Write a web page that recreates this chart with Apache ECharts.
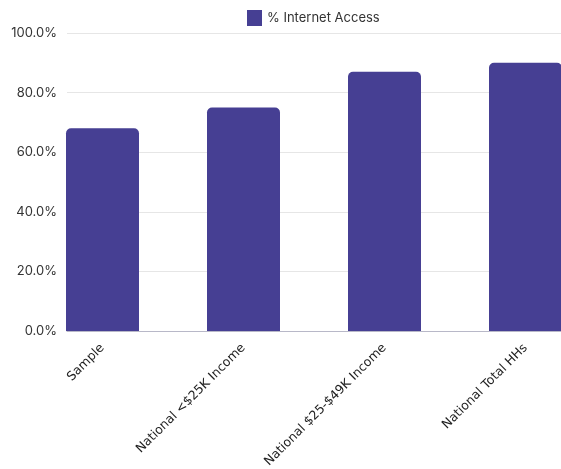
<!DOCTYPE html>
<html>
<head>
<meta charset="utf-8">
<script src="https://cdn.jsdelivr.net/npm/echarts@6/dist/echarts.min.js"></script>
<style>
html,body{margin:0;padding:0;background:#fff;}
#main{width:561px;height:469px;}
</style>
</head>
<body>
<div id="main"></div>
<script>
// data
var categories = ['Sample', 'National <$25K Income', 'National $25-$49K Income', 'National Total HHs'];
var internetAccess = [68, 75, 87, 90];
var seriesName = '% Internet Access';

var barColor = '#463f93';
var chart = echarts.init(document.getElementById('main'));

chart.setOption({
	animation: false,
	backgroundColor: '#fff',
	legend: {
		data: [seriesName],
		icon: 'rect',
		top: 5,
		left: 242,
		itemWidth: 15,
		itemHeight: 16,
		itemGap: 6,
		textStyle: { fontFamily: 'Inter', fontSize: 13, color: '#333' }
	},
	// grid 0: gridlines + y labels, grid 1: bars + category labels
	grid: [
		{ left: 67, width: 564, top: 33, bottom: 138, outerBoundsMode: 'none' },
		{ left: 32, width: 564, top: 33, bottom: 138, outerBoundsMode: 'none' }
	],
	xAxis: [
		{
			type: 'category', gridIndex: 0, data: categories,
			axisLine: { lineStyle: { color: '#b8b8c8', width: 1 } },
			axisTick: { show: false },
			axisLabel: { show: false }
		},
		{
			type: 'category', gridIndex: 1, data: categories,
			axisLine: { show: false },
			axisTick: { show: false },
			axisLabel: {
				rotate: 45,
				interval: 0,
				margin: 15,
				fontFamily: 'DejaVu Sans',
				fontSize: 12.5,
				color: '#222'
			}
		}
	],
	yAxis: [
		{
			type: 'value', gridIndex: 0, min: 0, max: 100, interval: 20,
			axisLine: { show: false },
			axisTick: { show: false },
			axisLabel: {
				margin: 10,
				fontFamily: 'Inter',
				fontSize: 13,
				color: '#333',
				formatter: function (v) { return v.toFixed(1) + '%'; }
			},
			splitLine: { lineStyle: { color: '#e6e6e6', width: 1 } }
		},
		{
			type: 'value', gridIndex: 1, min: 0, max: 100, interval: 20,
			axisLine: { show: false },
			axisTick: { show: false },
			axisLabel: { show: false },
			splitLine: { show: false }
		}
	],
	series: [
		{
			name: seriesName,
			type: 'bar',
			xAxisIndex: 1,
			yAxisIndex: 1,
			data: internetAccess,
			barWidth: 73,
			itemStyle: { color: barColor, borderRadius: [5, 5, 0, 0] }
		}
	]
});
</script>
</body>
</html>
